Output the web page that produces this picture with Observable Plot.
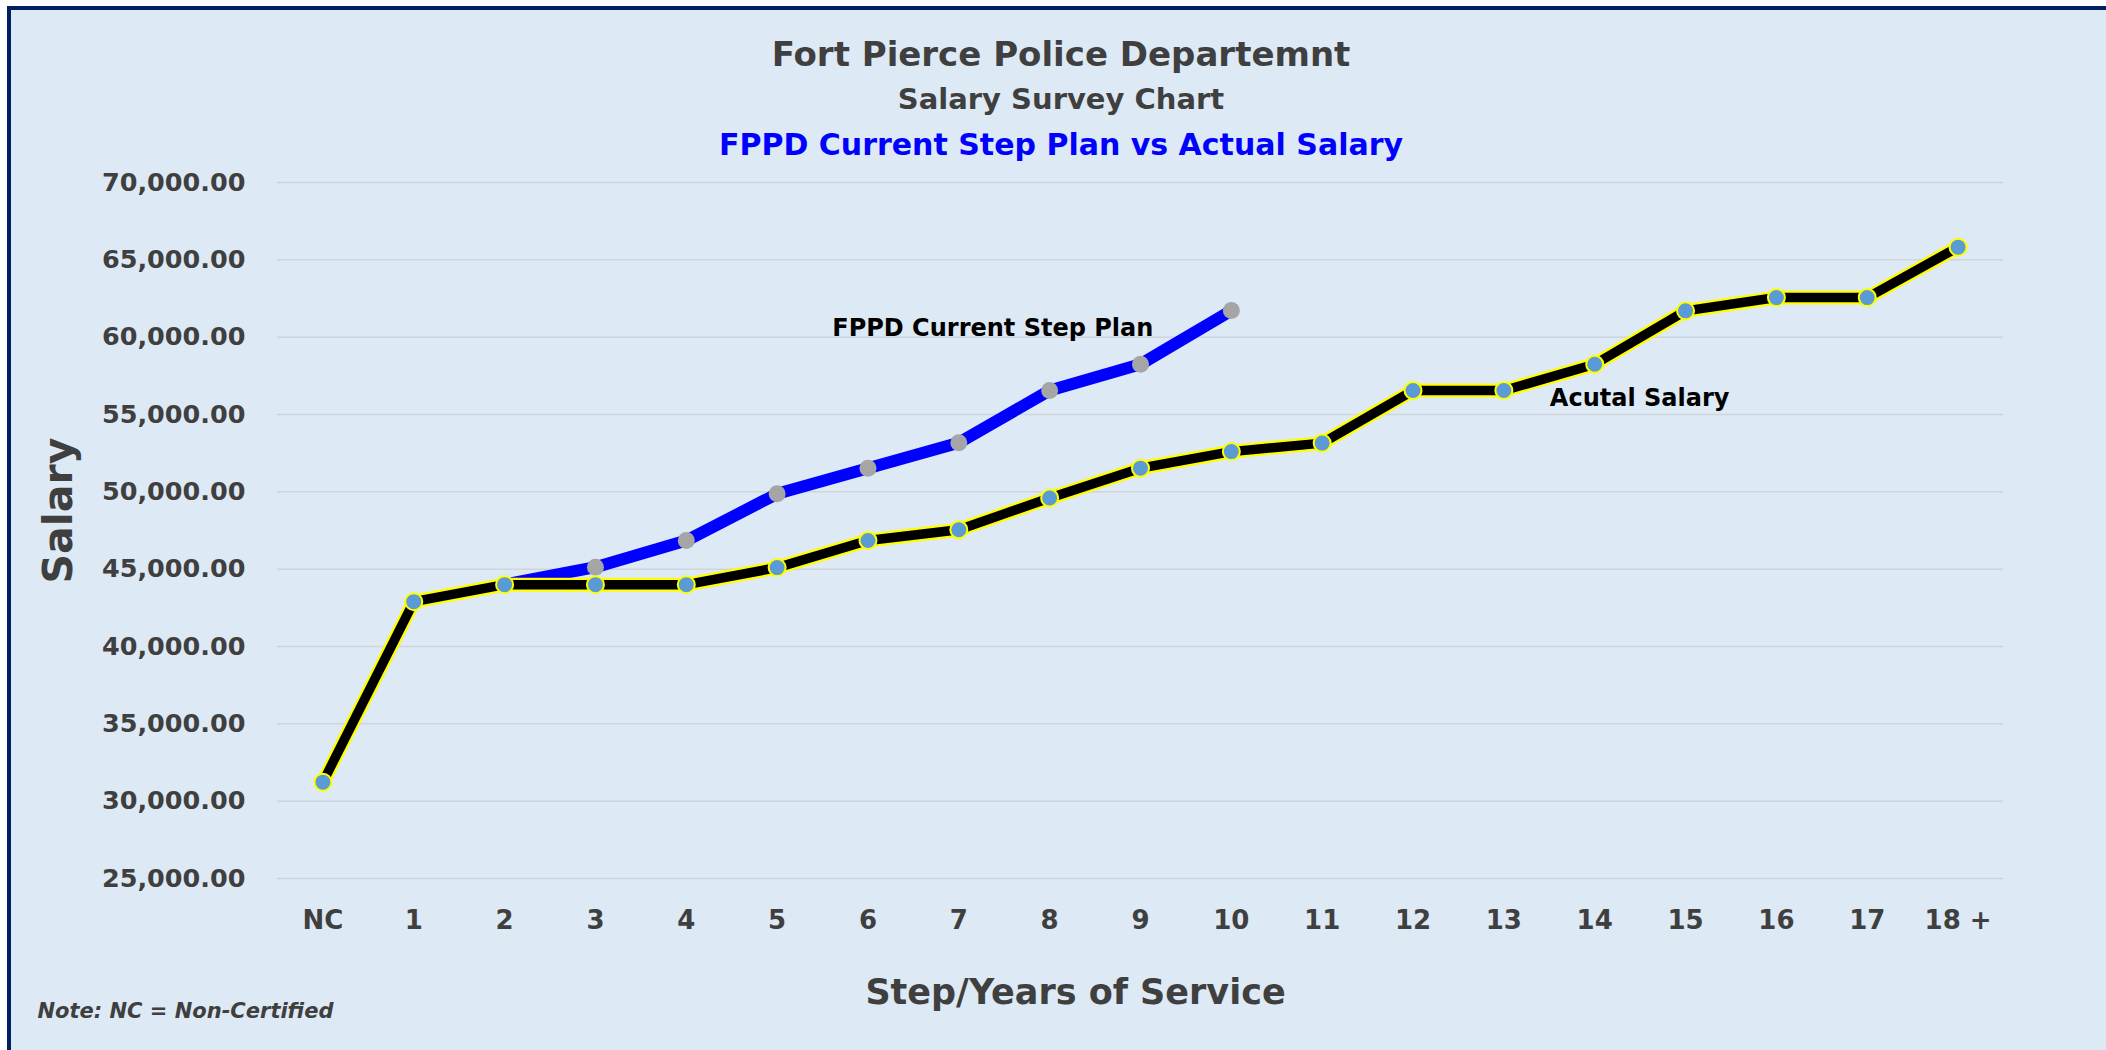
<!DOCTYPE html>
<html>
<head>
<meta charset="utf-8">
<script src="https://cdn.jsdelivr.net/npm/d3@7"></script>
<script src="https://cdn.jsdelivr.net/npm/@observablehq/plot@0.6"></script>
<style>
  html, body { margin: 0; padding: 0; background: #ffffff; }
  #page { position: relative; width: 2106px; height: 1050px; overflow: hidden; background: #ffffff; font-family: "DejaVu Sans", sans-serif; }
  #panel { position: absolute; left: 7px; top: 6px; right: 0; bottom: 0; background: #DDE9F5; border-top: 4px solid #002060; border-left: 4px solid #002060; }
  #header { position: relative; height: 160px; }
  .title { position: absolute; left: 1061px; transform: translateX(-50%); white-space: nowrap; font-weight: bold; line-height: 1; }
  #t1 { top: 37px; font-size: 34px; color: #3F3F3F; }
  #t2 { top: 85px; font-size: 29px; color: #3F3F3F; }
  #t3 { top: 130px; font-size: 30px; color: #0000FF; }
  #chart { position: relative; }
  #chart svg { display: block; }
</style>
</head>
<body>
<div id="page">
  <div id="panel"></div>
  <div id="header">
    <div class="title" id="t1">Fort Pierce Police Departemnt</div>
    <div class="title" id="t2">Salary Survey Chart</div>
    <div class="title" id="t3">FPPD Current Step Plan vs Actual Salary</div>
  </div>
  <div id="chart"></div>
</div>
<script>
// ---- data ----
const steps = ["NC", "1", "2", "3", "4", "5", "6", "7", "8", "9", "10", "11", "12", "13", "14", "15", "16", "17", "18 +"];
const actualSalary = [31230, 42900, 44000, 44000, 44000, 45100, 46850, 47550, 49600, 51530, 52600, 53150, 56550, 56550, 58250, 61700, 62560, 62560, 65820];
const planSteps = ["2", "3", "4", "5", "6", "7", "8", "9", "10"];
const planSalary = [44000, 45130, 46850, 49870, 51530, 53170, 56550, 58250, 61720];
const yTicks = [25000, 30000, 35000, 40000, 45000, 50000, 55000, 60000, 65000, 70000];
const planLabel = "FPPD Current Step Plan";
const actualLabel = "Acutal Salary";
const yTitle = "Salary";
const xTitle = "Step/Years of Service";
const note = "Note: NC = Non-Certified";

// ---- tables ----
const actual = steps.map((s, i) => ({step: s, salary: actualSalary[i]}));
const plan = planSteps.map((s, i) => ({step: s, salary: planSalary[i]}));

const textColor = "#3F3F3F";
const font = "DejaVu Sans";

const chart = Plot.plot({
  width: 2106,
  height: 890,
  marginTop: 22,
  marginBottom: 172,
  marginLeft: 277,
  marginRight: 103,
  style: {background: "transparent", fontFamily: font, overflow: "visible"},
  x: {type: "point", domain: steps, padding: 0.5, round: false, label: null},
  y: {domain: [25000, 70000], label: null},
  marks: [
    Plot.ruleY(yTicks, {stroke: "#D0D5DB", strokeWidth: 1.5}),
    Plot.axisY({ticks: yTicks, tickFormat: d3.format(",.2f"), tickSize: 0, tickPadding: 32,
      fontSize: 25.5, fontWeight: "bold", fill: textColor, label: null}),
    Plot.axisX({tickSize: 0, tickPadding: 32, fontSize: 26, fontWeight: "bold", fill: textColor, label: null}),
    // plan series
    Plot.line(plan, {x: "step", y: "salary", stroke: "#0000FF", strokeWidth: 12, strokeLinejoin: "round", strokeLinecap: "round"}),
    Plot.dot(plan, {x: "step", y: "salary", r: 8.5, fill: "#A5A5A5", stroke: "none"}),
    // actual series
    Plot.line(actual, {x: "step", y: "salary", stroke: "#FFFF00", strokeWidth: 14, strokeLinejoin: "round", strokeLinecap: "round"}),
    Plot.line(actual, {x: "step", y: "salary", stroke: "#000000", strokeWidth: 9.5, strokeLinejoin: "round"}),
    Plot.dot(actual, {x: "step", y: "salary", r: 8.5, fill: "#5B9BD5", stroke: "#FFFF00", strokeWidth: 2}),
    // series labels, anchored to data points
    Plot.text([plan[plan.length - 1]], {x: "step", y: "salary", text: () => planLabel, textAnchor: "end",
      dx: -78, dy: 18, fontSize: 24, fontWeight: "bold", fill: "#000000"}),
    Plot.text([actual[13]], {x: "step", y: "salary", text: () => actualLabel, textAnchor: "start",
      dx: 46, dy: 8, fontSize: 24, fontWeight: "bold", fill: "#000000"}),
    // axis titles and note
    Plot.text([yTitle], {frameAnchor: "left", text: d => d, rotate: -90, dx: -219, dy: -20,
      textAnchor: "middle", lineAnchor: "middle", fontSize: 41, fontWeight: "bold", fill: textColor}),
    Plot.text([xTitle], {frameAnchor: "bottom", text: d => d, dx: -65, dy: 114,
      textAnchor: "middle", lineAnchor: "middle", fontSize: 35, fontWeight: "bold", fill: textColor}),
    Plot.text([note], {frameAnchor: "bottom-left", text: d => d, dx: -240, dy: 133,
      textAnchor: "start", lineAnchor: "middle", fontSize: 21, fontWeight: "bold", fontStyle: "italic", fill: textColor})
  ]
});
document.getElementById("chart").appendChild(chart);
</script>
</body>
</html>
